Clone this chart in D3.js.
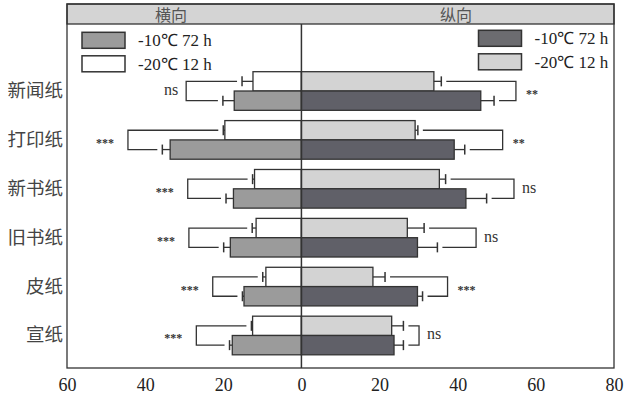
<!DOCTYPE html>
<html>
<head>
<meta charset="utf-8">
<script src="https://cdn.jsdelivr.net/npm/d3@7"></script>
<style>
  body { margin: 0; background: #fff; }
  svg { display: block; }
</style>
</head>
<body>
<div class="chart"></div>
<script>
// paper types
var categories = ['新闻纸', '打印纸', '新书纸', '旧书纸', '皮纸', '宣纸'];
var seriesNames = ['-10℃ 72 h', '-20℃ 12 h'];

// 横向 (left side)
var hengA = [17.2, 33.6, 17.4, 18.2, 14.7, 17.7];      // -10C 72 h
var hengAErr = [2.9, 2.0, 1.9, 1.7, 0.4, 0.7];
var hengB = [12.4, 19.6, 12.0, 11.6, 9.1, 12.5];       // -20C 12 h
var hengBErr = [2.8, 0.4, 0.5, 1.0, 0.8, 0.3];
var hengBracket = [29.5, 44.4, 29.1, 28.8, 22.7, 26.9];
var hengSig = ['ns', '***', '***', '***', '***', '***'];

// 纵向 (right side)
var zongA = [45.9, 39.1, 42.1, 29.7, 29.7, 23.7];
var zongAErr = [3.4, 2.7, 5.3, 5.1, 1.3, 2.4];
var zongB = [33.9, 29.1, 35.3, 27.1, 18.3, 23.1];
var zongBErr = [1.9, 0.7, 1.6, 4.3, 3.1, 3.0];
var zongBracket = [54.9, 51.5, 54.4, 44.7, 37.4, 30.1];
var zongSig = ['**', '**', 'ns', 'ns', '***', 'ns'];

var tickValues = [-60, -40, -20, 0, 20, 40, 60, 80];

var W = 626, H = 395;
var box = { left: 67, right: 614, top: 4, head: 24, bottom: 368 };
var ink = '#333';
var serif = '"Liberation Serif", "Times New Roman", serif';
var cjk = '"Noto Sans CJK SC", sans-serif';

var svg = d3.select('.chart')
    .append('svg')
    .attr('width', W)
    .attr('height', H);

var x = d3.scaleLinear()
    .domain([-60, 80])
    .range([box.left, box.right]);

var y = d3.scaleBand()
    .domain(categories)
    .range([67, 359.5])
    .paddingInner(0.21)
    .paddingOuter(0.096);

// upper bar = -20C 12 h, lower bar = -10C 72 h
var sub = d3.scaleBand()
    .domain(['B', 'A'])
    .range([0, y.bandwidth()]);

// header band + frame
svg.append('rect')
    .attr('x', box.left).attr('y', box.top)
    .attr('width', box.right - box.left).attr('height', box.head - box.top)
    .attr('fill', '#d4d4d4')
    .attr('stroke', ink).attr('stroke-width', 1.3);
svg.append('rect')
    .attr('x', box.left).attr('y', box.top)
    .attr('width', box.right - box.left).attr('height', box.bottom - box.top)
    .attr('fill', 'none')
    .attr('stroke', ink).attr('stroke-width', 1.3);

svg.append('text').attr('x', 171).attr('y', 20.5)
    .attr('text-anchor', 'middle').style('font-family', cjk).style('font-size', '16px')
    .attr('fill', '#555').text('横向');
svg.append('text').attr('x', 456).attr('y', 20.5)
    .attr('text-anchor', 'middle').style('font-family', cjk).style('font-size', '16px')
    .attr('fill', '#555').text('纵向');

function buildRows(a, aErr, b, bErr, bracket, sig, side) {
  var rows = [];
  for (var i = 0; i < categories.length; i++) {
    rows.push({ cat: categories[i], key: 'B', val: b[i], err: bErr[i], side: side });
    rows.push({ cat: categories[i], key: 'A', val: a[i], err: aErr[i], side: side });
  }
  var groups = categories.map(function(c, i) {
    return { cat: c, top: b[i] + bErr[i], bot: a[i] + aErr[i], bracket: bracket[i], sig: sig[i], side: side };
  });
  return { rows: rows, groups: groups };
}

var left = buildRows(hengA, hengAErr, hengB, hengBErr, hengBracket, hengSig, -1);
var right = buildRows(zongA, zongAErr, zongB, zongBErr, zongBracket, zongSig, 1);

var fills = {
  '-1A': '#9b9b9b', '-1B': '#ffffff',
  '1A': '#606068', '1B': '#d3d3d3'
};

function drawSide(d) {
  var g = svg.append('g');
  var bars = d.rows;

  g.selectAll('rect.bar')
      .data(bars)
    .enter().append('rect')
      .attr('class', 'bar')
      .attr('x', function(r) { return Math.min(x(0), x(r.side * r.val)); })
      .attr('y', function(r) { return y(r.cat) + sub(r.key); })
      .attr('width', function(r) { return Math.abs(x(r.side * r.val) - x(0)); })
      .attr('height', sub.bandwidth())
      .attr('fill', function(r) { return fills[r.side + r.key]; })
      .attr('stroke', ink)
      .attr('stroke-width', 1.3);

  // error whiskers
  g.selectAll('line.err')
      .data(bars)
    .enter().append('line')
      .attr('x1', function(r) { return x(r.side * r.val); })
      .attr('x2', function(r) { return x(r.side * (r.val + r.err)); })
      .attr('y1', function(r) { return y(r.cat) + sub(r.key) + sub.bandwidth() / 2; })
      .attr('y2', function(r) { return y(r.cat) + sub(r.key) + sub.bandwidth() / 2; })
      .attr('stroke', ink).attr('stroke-width', 1.3);
  g.selectAll('line.cap')
      .data(bars)
    .enter().append('line')
      .attr('x1', function(r) { return x(r.side * (r.val + r.err)); })
      .attr('x2', function(r) { return x(r.side * (r.val + r.err)); })
      .attr('y1', function(r) { return y(r.cat) + sub(r.key) + sub.bandwidth() / 2 - 5; })
      .attr('y2', function(r) { return y(r.cat) + sub(r.key) + sub.bandwidth() / 2 + 5; })
      .attr('stroke', ink).attr('stroke-width', 1.5);

  // significance brackets
  var gap = 5;
  g.selectAll('path.bracket')
      .data(d.groups)
    .enter().append('path')
      .attr('fill', 'none')
      .attr('stroke', ink).attr('stroke-width', 1.3)
      .attr('d', function(s) {
        var yt = y(s.cat) + sub('B') + sub.bandwidth() / 2;
        var yb = y(s.cat) + sub('A') + sub.bandwidth() / 2;
        var xb = x(s.side * s.bracket);
        var xt = x(s.side * s.top) + s.side * gap;
        var xl = x(s.side * s.bot) + s.side * gap;
        return 'M' + xt + ',' + yt + 'H' + xb + 'V' + yb + 'H' + xl;
      });

  g.selectAll('text.sig')
      .data(d.groups)
    .enter().append('text')
      .attr('x', function(s) {
        var off = s.sig === 'ns' ? 8 : (s.side < 0 ? 14 : 10);
        return x(s.side * s.bracket) + s.side * off;
      })
      .attr('y', function(s) {
        var c = y(s.cat) + y.bandwidth() / 2;
        return s.sig === 'ns' ? c + 4 : c + 7;
      })
      .attr('text-anchor', d.groups[0].side < 0 ? 'end' : 'start')
      .style('font-family', serif)
      .style('font-size', function(s) { return s.sig === 'ns' ? '16px' : '12px'; })
      .style('font-weight', function(s) { return s.sig === 'ns' ? 'normal' : 'bold'; })
      .attr('fill', ink)
      .text(function(s) { return s.sig; });
}

drawSide(left);
drawSide(right);

// zero line
svg.append('line')
    .attr('x1', x(0)).attr('x2', x(0))
    .attr('y1', box.head).attr('y2', box.bottom)
    .attr('stroke', ink).attr('stroke-width', 1.5);

// category labels
svg.selectAll('text.cat')
    .data(categories)
  .enter().append('text')
    .attr('x', 63)
    .attr('y', function(c) { return y(c) + y.bandwidth() / 2 + 6; })
    .attr('text-anchor', 'end')
    .style('font-family', cjk)
    .style('font-size', '18.5px')
    .attr('fill', '#444')
    .text(function(c) { return c; });

// bottom axis
var axis = svg.append('g')
    .attr('transform', 'translate(0,' + box.bottom + ')')
    .call(d3.axisBottom(x)
      .tickValues(tickValues)
      .tickFormat(function(v) { return Math.abs(v); })
      .tickSize(0)
      .tickPadding(10));
axis.select('.domain').remove();
axis.selectAll('text')
    .style('font-family', serif)
    .style('font-size', '18px')
    .attr('fill', '#222');

// legends
function drawLegend(x0, y0, colors) {
  seriesNames.forEach(function(name, i) {
    var yy = y0 + i * 23.5;
    svg.append('rect')
        .attr('x', x0).attr('y', yy)
        .attr('width', 43).attr('height', 16)
        .attr('fill', colors[i])
        .attr('stroke', ink).attr('stroke-width', 1.5);
    svg.append('text')
        .attr('x', x0 + 56).attr('y', yy + 14)
        .style('font-family', serif)
        .style('font-size', '17px')
        .attr('fill', '#222')
        .text(name);
  });
}
drawLegend(82, 32.3, [fills['-1A'], fills['-1B']]);
drawLegend(478.5, 30.3, ['#6c6c70', fills['1B']]);
</script>
</body>
</html>
